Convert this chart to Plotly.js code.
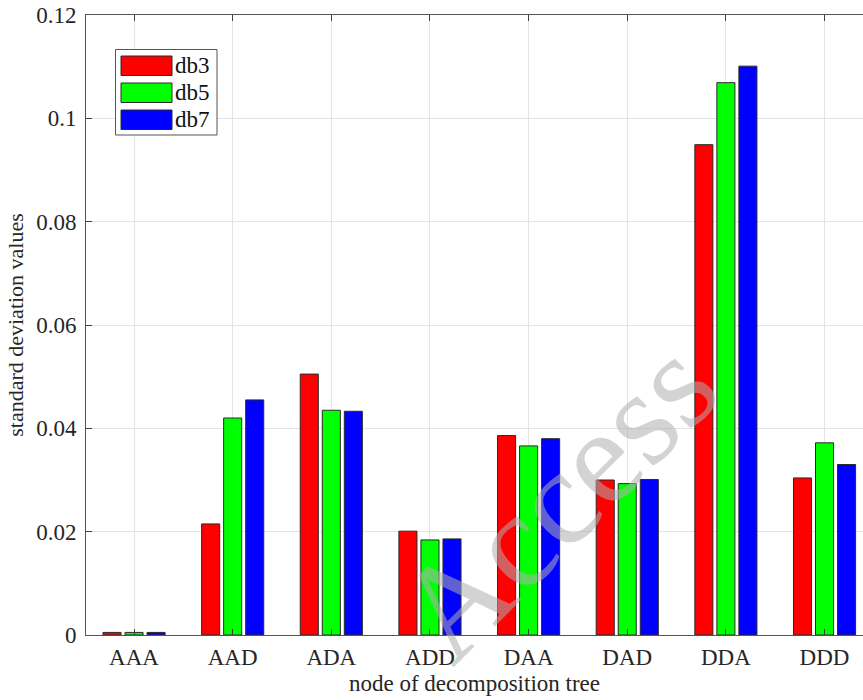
<!DOCTYPE html>
<html>
<head>
<meta charset="utf-8">
<script src="https://cdn.plot.ly/plotly-3.0.1.min.js"></script>
<style>
  html, body { margin: 0; padding: 0; background: #ffffff; overflow: hidden; }
  #chart { width: 863px; height: 700px; }
</style>
</head>
<body>
<div id="chart"></div>
<script>
// Nodes of the wavelet packet decomposition tree
const nodes = ['AAA', 'AAD', 'ADA', 'ADD', 'DAA', 'DAD', 'DDA', 'DDD'];

// Standard deviation of each node for the three wavelets
const db3 = [0.0005, 0.0215, 0.0505, 0.0201, 0.0386, 0.0300, 0.0949, 0.0304];
const db5 = [0.0005, 0.0420, 0.0435, 0.0184, 0.0366, 0.0293, 0.1069, 0.0372];
const db7 = [0.0005, 0.0455, 0.0433, 0.0186, 0.0380, 0.0301, 0.1101, 0.0330];

const seriesNames = ['db3', 'db5', 'db7'];
const seriesColors = ['#ff0000', '#00ff00', '#0000ff'];
const seriesValues = [db3, db5, db7];

const yTicks = [0, 0.02, 0.04, 0.06, 0.08, 0.1, 0.12];

const serif = "'Liberation Serif', 'Times New Roman', serif";
const ink = '#262626';

const traces = seriesValues.map((vals, i) => ({
  type: 'bar',
  name: seriesNames[i],
  x: nodes,
  y: vals,
  marker: { color: seriesColors[i], line: { color: '#2a2a2a', width: 1 } },
  showlegend: false,
  hoverinfo: 'x+y+name'
}));

// Boxed legend with wide colour patches, placed in paper coordinates
const plotL = 86, plotT = 15, plotW = 863 - 86, plotH = 635 - 15;
const px = x => (x - plotL) / plotW;
const py = y => (plotT + plotH - y) / plotH;

const shapes = [{
  type: 'rect', xref: 'paper', yref: 'paper',
  x0: px(115.5), x1: px(217), y0: py(135), y1: py(49.5),
  fillcolor: '#ffffff', line: { color: '#555555', width: 1 }, layer: 'above'
}];
const annotations = [];
const rowTop = [56, 83, 110];
seriesNames.forEach((name, i) => {
  shapes.push({
    type: 'rect', xref: 'paper', yref: 'paper',
    x0: px(121), x1: px(172), y0: py(rowTop[i] + 19.5), y1: py(rowTop[i]),
    fillcolor: seriesColors[i], line: { color: '#2a2a2a', width: 1 }, layer: 'above'
  });
  annotations.push({
    xref: 'paper', yref: 'paper', x: px(173), y: py(rowTop[i] + 9.5),
    xanchor: 'left', yanchor: 'middle', showarrow: false,
    text: name, font: { family: serif, size: 23, color: '#111111' }
  });
});

// Publisher watermark across the plot
annotations.push({
  xref: 'paper', yref: 'paper', x: px(556), y: py(500),
  xanchor: 'center', yanchor: 'middle', showarrow: false,
  text: 'Access', textangle: -45,
  font: { family: serif, size: 136, color: 'rgba(175,175,175,0.55)' }
});

const layout = {
  width: 863, height: 700,
  margin: { l: plotL, r: 0, t: plotT, b: 700 - 635 },
  paper_bgcolor: '#ffffff', plot_bgcolor: '#ffffff',
  barmode: 'group', bargap: 0.33, bargroupgap: 0.18,
  font: { family: serif, color: ink },
  xaxis: {
    type: 'category', range: [-0.487, 7.39],
    tickvals: nodes, ticktext: nodes,
    ticks: 'inside', ticklen: 6, tickcolor: '#404040', tickwidth: 1,
    showline: true, linecolor: '#555555', linewidth: 1, mirror: 'ticks',
    showgrid: true, gridcolor: '#e4e4e4', gridwidth: 1,
    tickfont: { family: serif, size: 23, color: ink },
    ticklabelstandoff: 1,
    title: { text: 'node of decomposition tree', font: { family: serif, size: 23, color: ink }, standoff: 6 },
    zeroline: false, fixedrange: true
  },
  yaxis: {
    range: [0, 0.12], tickvals: yTicks,
    ticks: 'inside', ticklen: 6, tickcolor: '#404040', tickwidth: 1,
    showline: true, linecolor: '#555555', linewidth: 1, mirror: false,
    showgrid: true, gridcolor: '#e4e4e4', gridwidth: 1,
    tickfont: { family: serif, size: 23, color: ink },
    ticklabelstandoff: 4,
    title: { text: 'standard deviation values', font: { family: serif, size: 22, color: ink }, standoff: 6 },
    zeroline: false, fixedrange: true
  },
  shapes: shapes,
  annotations: annotations,
  showlegend: false
};

Plotly.newPlot('chart', traces, layout, { displayModeBar: false, staticPlot: true });
</script>
</body>
</html>
